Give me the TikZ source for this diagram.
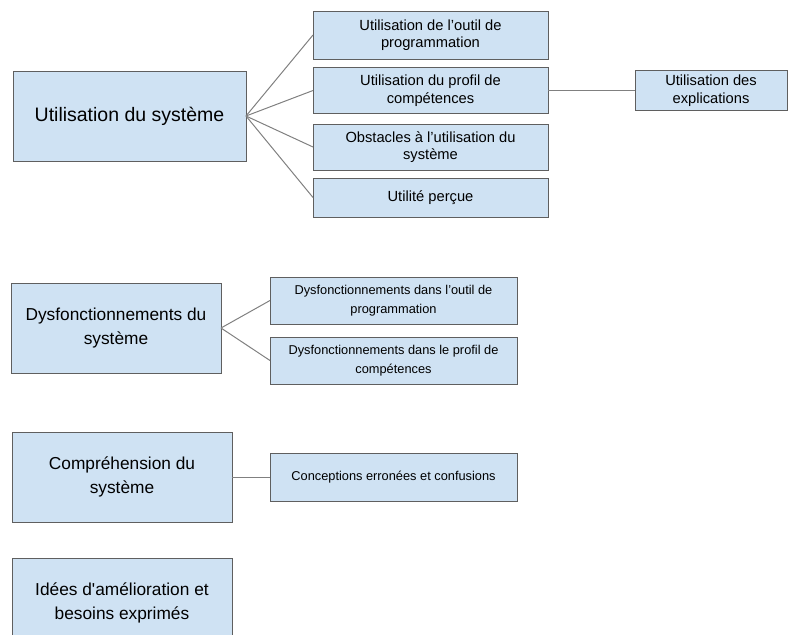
\documentclass[tikz,border=0pt]{standalone}
\usepackage{fontspec}
\setmainfont{Liberation Sans}
\definecolor{boxblue}{HTML}{CFE2F3}
\definecolor{boxline}{HTML}{5F5F5F}
\definecolor{linkgray}{HTML}{808080}
\tikzset{
  theme/.style= {draw=boxline, fill=boxblue, line width=0.9pt, align=center,
    inner sep=2pt, outer sep=0pt, minimum height=90pt, font=\fontsize{17.3}{24}\selectfont},
  sub/.style= {draw=boxline, fill=boxblue, line width=0.9pt, align=center,
    inner sep=2pt, outer sep=0pt, minimum height=46pt, font=\fontsize{12.8}{19}\selectfont},
  large/.style= {font=\fontsize{14.7}{17.5}\selectfont},
  link/.style= {draw=linkgray, line width=1pt},
}

\begin{document}
\begin{tikzpicture}[x=1pt, y=-1pt]
  \useasboundingbox (0,0) rectangle (788,635);
  \clip (0,0) rectangle (788,635);

  \node [theme, minimum width=233pt, font=\fontsize{19.5}{24}\selectfont] (usage) at (129.5,116) {Utilisation du système} ;
  \node [sub, large, minimum width=235pt, minimum height=48pt] (outil) at (430.5,35) {Utilisation de l’outil de\\programmation} ;
  \node [sub, large, minimum width=235pt] (profil) at (430.5,90.5) {Utilisation du profil de\\compétences} ;
  \node [sub, large, minimum width=235pt] (obst) at (430.5,147) {Obstacles à l’utilisation du\\système} ;
  \node [sub, large, minimum width=235pt, minimum height=39pt] (utile) at (430.5,197.5) {Utilité perçue} ;
  \node [sub, large, minimum width=152pt, minimum height=40pt] (expl) at (711,90.5) {Utilisation des\\explications} ;

  \node [theme, minimum width=210pt] (dysf) at (116,328) {Dysfonctionnements du\\système} ;
  \node [sub, minimum width=247pt, minimum height=47pt] (dysoutil) at (393.5,300.5) {Dysfonctionnements dans l’outil de\\programmation} ;
  \node [sub, minimum width=247pt, minimum height=47pt] (dysprofil) at (393.5,360.5) {Dysfonctionnements dans le profil de\\compétences} ;

  \node [theme, minimum width=220pt] (compr) at (122,477) {Compréhension du\\système} ;
  \node [sub, minimum width=247pt, minimum height=48pt] (concept) at (393.5,477) {Conceptions erronées et confusions} ;

  \node [theme, minimum width=220pt] (idees) at (122,603) {Idées d\textquotesingle amélioration et\\besoins exprimés} ;

  \foreach \n in {outil, profil, obst, utile}
    \draw [link] (usage.east) -- (\n.west) ;
  \draw [link] (profil.east) -- (expl.west) ;
  \foreach \n in {dysoutil, dysprofil}
    \draw [link] (dysf.east) -- (\n.west) ;
  \draw [link] (compr.east) -- (concept.west) ;
\end{tikzpicture}
\end{document}
